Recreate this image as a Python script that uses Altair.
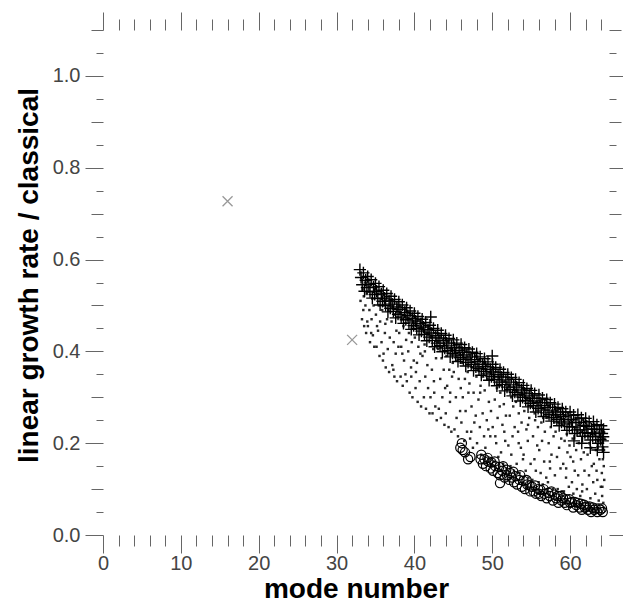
import altair as alt
import pandas as pd

# ---------------- data ----------------
# grey "x" markers
cross_pts = [(16.0, 0.727), (32.0, 0.425)]

# "+" markers (upper band)
plus_pts = [
    (33.0, .578), (33.15, .561), (33.3, .545), (33.45, .571), (33.6, .531), (33.75, .555), (33.9, .539),
    (34.0, .563), (34.15, .546), (34.3, .530), (34.45, .556), (34.6, .516), (34.75, .540), (34.9, .524),
    (35.0, .548), (35.15, .531), (35.3, .515), (35.45, .541), (35.6, .501), (35.75, .525), (35.9, .509),
    (36.0, .533), (36.15, .516), (36.3, .500), (36.45, .526), (36.6, .486), (36.75, .510), (36.9, .494),
    (37.0, .520), (37.15, .503), (37.3, .487), (37.45, .513), (37.6, .473), (37.75, .497), (37.9, .481),
    (38.0, .508), (38.15, .491), (38.3, .475), (38.45, .501), (38.6, .461), (38.75, .485), (38.9, .469),
    (39.0, .495), (39.15, .478), (39.3, .462), (39.45, .488), (39.6, .448), (39.75, .472), (39.9, .456),
    (40.0, .483), (40.15, .466), (40.3, .450), (40.45, .476), (40.6, .436), (40.75, .460), (40.9, .444),
    (41.0, .470), (41.15, .453), (41.3, .437), (41.45, .463), (41.6, .423), (41.75, .447), (41.9, .431),
    (42.1, .475),
    (42.0, .457), (42.15, .440), (42.3, .424), (42.45, .450), (42.6, .410), (42.75, .434), (42.9, .418),
    (43.0, .446), (43.15, .429), (43.3, .413), (43.45, .439), (43.6, .399), (43.75, .423), (43.9, .407),
    (44.0, .435), (44.15, .418), (44.3, .402), (44.45, .428), (44.6, .388), (44.75, .412), (44.9, .396),
    (45.0, .425), (45.15, .408), (45.3, .392), (45.45, .418), (45.6, .378), (45.75, .402), (45.9, .386),
    (46.0, .415), (46.15, .398), (46.3, .382), (46.45, .408), (46.6, .368), (46.75, .392), (46.9, .376),
    (47.0, .405), (47.15, .388), (47.3, .372), (47.45, .398), (47.6, .358), (47.75, .382), (47.9, .366),
    (48.0, .395), (48.15, .378), (48.3, .362), (48.45, .388), (48.6, .348), (48.75, .372), (48.9, .356),
    (49.0, .384), (49.15, .367), (49.3, .351), (49.45, .377), (49.6, .337), (49.75, .361), (49.9, .345),
    (50.0, .390),
    (50.05, .372), (50.15, .355), (50.3, .339), (50.45, .365), (50.6, .325), (50.75, .349), (50.9, .333),
    (51.0, .361), (51.15, .344), (51.3, .328), (51.45, .354), (51.6, .314), (51.75, .338), (51.9, .322),
    (52.0, .350), (52.15, .333), (52.3, .317), (52.45, .343), (52.6, .303), (52.75, .327), (52.9, .311),
    (53.0, .339), (53.15, .322), (53.3, .306), (53.45, .332), (53.6, .292), (53.75, .316), (53.9, .300),
    (54.0, .326), (54.15, .309), (54.3, .293), (54.45, .319), (54.6, .279), (54.75, .303), (54.9, .287),
    (55.0, .315), (55.15, .298), (55.3, .282), (55.45, .308), (55.6, .268), (55.75, .292), (55.9, .276),
    (56.0, .305), (56.15, .288), (56.3, .272), (56.45, .298), (56.6, .258), (56.75, .282), (56.9, .266),
    (57.0, .295), (57.15, .278), (57.3, .262), (57.45, .288), (57.6, .248), (57.75, .272), (57.9, .256),
    (58.0, .285), (58.15, .268), (58.3, .252), (58.45, .278), (58.6, .238), (58.75, .262), (58.9, .246),
    (59.0, .275), (59.15, .258), (59.3, .242), (59.45, .268), (59.6, .228), (59.75, .252), (59.9, .236),
    (60.0, .268), (60.15, .251), (60.3, .235), (60.45, .261), (60.6, .221), (60.75, .245), (60.9, .229),
    (61.0, .262), (61.15, .245), (61.3, .229), (61.45, .255), (61.6, .215), (61.75, .239), (61.9, .223),
    (62.0, .254), (62.15, .237), (62.3, .221), (62.45, .247), (62.6, .207), (62.75, .231), (62.9, .215),
    (63.0, .247), (63.15, .230), (63.3, .214), (63.45, .240), (63.6, .200), (63.75, .224), (63.9, .208),
    (64.0, .238), (64.1, .221), (64.2, .205), (64.3, .230), (64.15, .192), (64.25, .214),
    (60.5, .205), (61.5, .200), (62.6, .190), (63.5, .185), (64.3, .180),
]

# "o" markers (lower band)
circle_pts = [
    (45.9, .190), (46.2, .185), (46.1, .200), (46.5, .180), (46.9, .165), (47.2, .170),
    (48.5, .165), (48.8, .155), (49.2, .150), (49.5, .160), (49.8, .145),
    (50.1, .140), (50.4, .150), (50.7, .135), (51.0, .130), (51.3, .140),
    (51.6, .125), (51.9, .130), (52.2, .120), (52.5, .125), (52.8, .115),
    (53.2, .110), (53.5, .120), (53.8, .105), (54.2, .100), (54.5, .110),
    (54.9, .095), (55.3, .095), (55.6, .090), (56.0, .090), (56.3, .085),
    (56.7, .090), (57.0, .080), (57.4, .085), (57.8, .075), (58.2, .080),
    (58.5, .070), (58.9, .075), (59.3, .070), (59.6, .065), (60.0, .070),
    (60.4, .060), (60.8, .065), (61.2, .060), (61.5, .055), (61.9, .060),
    (62.3, .055), (62.7, .050), (63.1, .055), (63.5, .050), (63.9, .055),
    (64.2, .050), (51.0, .113),
    (48.6, .175), (49.0, .165), (49.4, .168), (49.9, .158), (50.3, .160),
    (50.9, .148), (51.4, .150), (51.8, .142), (52.3, .135), (52.7, .138),
    (53.0, .128), (53.6, .130), (54.0, .118), (54.4, .120), (54.8, .108),
    (55.1, .105), (55.5, .108), (55.9, .100), (56.2, .098), (56.6, .100),
    (57.2, .092), (57.6, .095), (58.0, .088), (58.4, .085), (58.8, .085),
    (59.1, .080), (59.5, .078), (59.9, .078), (60.2, .072), (60.6, .072),
    (61.0, .070), (61.4, .068), (61.8, .066), (62.1, .062), (62.5, .062),
    (62.9, .060), (63.3, .058), (63.7, .058), (64.1, .058),
]

# small dots filling the region between the bands
dot_pts = [
    (33.08, .510), (33.18, .560), (33.27, .470), (33.36, .535), (33.44, .490), (33.55, .455), (33.63, .550), (33.71, .500), (33.80, .440), (33.88, .525), (33.95, .465), (33.50, .520),
    (34.03, .455), (34.12, .530), (34.22, .490), (34.30, .420), (34.41, .545), (34.50, .470), (34.58, .515), (34.67, .435), (34.76, .500), (34.85, .410), (34.93, .535), (34.45, .440),
    (35.06, .480), (35.14, .410), (35.25, .525), (35.33, .445), (35.42, .500), (35.52, .390), (35.60, .465), (35.70, .530), (35.78, .420), (35.87, .490), (35.96, .380), (35.20, .455),
    (36.04, .395), (36.13, .500), (36.21, .440), (36.32, .365), (36.40, .515), (36.49, .470), (36.58, .405), (36.66, .490), (36.75, .355), (36.84, .430), (36.93, .510), (36.27, .460),
    (37.07, .465), (37.16, .370), (37.24, .500), (37.34, .420), (37.43, .345), (37.51, .480), (37.60, .395), (37.69, .445), (37.77, .335), (37.86, .495), (37.95, .410), (37.30, .360),
    (38.05, .440), (38.14, .485), (38.23, .345), (38.31, .410), (38.40, .470), (38.50, .325), (38.59, .455), (38.67, .380), (38.76, .495), (38.85, .350), (38.94, .425), (38.45, .395),
    (39.03, .335), (39.12, .470), (39.21, .400), (39.30, .440), (39.39, .310), (39.48, .480), (39.57, .365), (39.66, .420), (39.75, .300), (39.84, .455), (39.92, .380), (39.60, .345),
    (40.06, .430), (40.15, .320), (40.24, .465), (40.33, .375), (40.42, .290), (40.51, .410), (40.60, .450), (40.68, .335), (40.77, .395), (40.86, .280), (40.95, .470), (40.20, .355),
    (41.04, .390), (41.13, .450), (41.22, .300), (41.31, .415), (41.40, .345), (41.49, .275), (41.58, .440), (41.67, .370), (41.76, .320), (41.85, .455), (41.94, .265), (41.35, .400),
    (42.07, .300), (42.16, .430), (42.25, .360), (42.33, .265), (42.42, .405), (42.51, .335), (42.60, .440), (42.69, .280), (42.78, .385), (42.87, .250), (42.96, .420), (42.55, .310),
    (43.05, .405), (43.14, .275), (43.23, .430), (43.32, .340), (43.41, .255), (43.50, .385), (43.59, .300), (43.68, .425), (43.77, .360), (43.86, .240), (43.95, .320), (43.45, .410),
    (44.03, .265), (44.12, .390), (44.21, .325), (44.30, .420), (44.39, .235), (44.48, .360), (44.57, .290), (44.66, .405), (44.75, .225), (44.84, .345), (44.93, .375), (44.60, .310),
    (45.06, .355), (45.15, .230), (45.24, .405), (45.33, .300), (45.42, .255), (45.51, .380), (45.60, .215), (45.69, .340), (45.78, .410), (45.87, .270), (45.96, .320), (45.40, .390),
    (46.04, .245), (46.13, .375), (46.22, .300), (46.31, .395), (46.40, .205), (46.49, .340), (46.58, .270), (46.67, .400), (46.76, .225), (46.85, .355), (46.94, .310), (46.55, .385),
    (47.07, .330), (47.16, .210), (47.25, .385), (47.34, .280), (47.43, .365), (47.52, .190), (47.61, .310), (47.70, .245), (47.79, .390), (47.88, .260), (47.97, .345), (47.30, .225),
    (48.05, .200), (48.14, .360), (48.23, .295), (48.32, .380), (48.41, .235), (48.50, .325), (48.59, .175), (48.68, .345), (48.77, .265), (48.86, .375), (48.95, .215), (48.45, .310),
    (49.03, .315), (49.12, .190), (49.21, .370), (49.30, .250), (49.39, .340), (49.48, .165), (49.57, .290), (49.66, .355), (49.75, .215), (49.84, .270), (49.93, .360), (49.50, .230),
    (50.06, .235), (50.15, .340), (50.24, .160), (50.33, .295), (50.42, .355), (50.51, .200), (50.60, .320), (50.69, .255), (50.78, .170), (50.87, .345), (50.96, .280), (50.40, .215),
    (51.04, .310), (51.13, .180), (51.22, .345), (51.31, .240), (51.40, .155), (51.49, .285), (51.58, .335), (51.67, .205), (51.76, .260), (51.85, .145), (51.94, .320), (51.55, .225),
    (52.07, .195), (52.16, .325), (52.25, .260), (52.34, .150), (52.43, .300), (52.52, .340), (52.61, .215), (52.70, .280), (52.79, .140), (52.88, .235), (52.97, .315), (52.45, .175),
    (53.05, .290), (53.14, .155), (53.23, .330), (53.32, .225), (53.41, .265), (53.50, .135), (53.59, .305), (53.68, .190), (53.77, .245), (53.86, .320), (53.95, .165), (53.40, .200),
    (54.03, .175), (54.12, .270), (54.21, .310), (54.30, .140), (54.39, .230), (54.48, .295), (54.57, .205), (54.66, .125), (54.75, .255), (54.84, .315), (54.93, .155), (54.60, .240),
    (55.06, .280), (55.15, .120), (55.24, .215), (55.33, .300), (55.42, .165), (55.51, .250), (55.60, .140), (55.69, .290), (55.78, .195), (55.87, .235), (55.96, .115), (55.45, .265),
    (56.04, .185), (56.13, .290), (56.22, .135), (56.31, .245), (56.40, .205), (56.49, .110), (56.58, .275), (56.67, .160), (56.76, .225), (56.85, .295), (56.94, .125), (56.55, .255),
    (57.07, .255), (57.16, .115), (57.25, .200), (57.34, .280), (57.43, .145), (57.52, .235), (57.61, .175), (57.70, .270), (57.79, .100), (57.88, .215), (57.97, .245), (57.40, .160),
    (58.05, .130), (58.14, .225), (58.23, .270), (58.32, .170), (58.41, .100), (58.50, .245), (58.59, .190), (58.68, .275), (58.77, .145), (58.86, .210), (58.95, .095), (58.45, .260),
    (59.03, .240), (59.12, .155), (59.21, .095), (59.30, .205), (59.39, .260), (59.48, .125), (59.57, .220), (59.66, .180), (59.75, .265), (59.84, .105), (59.93, .195), (59.50, .145),
    (60.06, .170), (60.15, .250), (60.24, .115), (60.33, .210), (60.42, .090), (60.51, .235), (60.60, .140), (60.69, .255), (60.78, .185), (60.87, .100), (60.96, .225), (60.40, .160),
    (61.04, .130), (61.13, .200), (61.22, .245), (61.31, .085), (61.40, .165), (61.49, .225), (61.58, .110), (61.67, .250), (61.76, .180), (61.85, .140), (61.94, .215), (61.55, .095),
    (62.07, .235), (62.16, .100), (62.25, .175), (62.34, .215), (62.43, .130), (62.52, .245), (62.61, .080), (62.70, .190), (62.79, .150), (62.88, .230), (62.97, .115), (62.45, .200),
    (63.05, .155), (63.14, .220), (63.23, .090), (63.32, .185), (63.41, .240), (63.50, .120), (63.59, .205), (63.68, .075), (63.77, .165), (63.86, .230), (63.95, .105), (63.40, .140),
    (64.03, .200), (64.12, .085), (64.21, .165), (64.30, .225), (64.39, .120), (64.08, .135), (64.18, .230), (64.27, .070), (64.36, .185), (64.15, .105), (64.33, .150), (64.42, .210),
]

x_tick_values = [0, 2, 4, 6, 8, 10, 12, 14, 16, 18, 20, 22, 24, 26, 28, 30, 32,
                 34, 36, 38, 40, 42, 44, 46, 48, 50, 52, 54, 56, 58, 60, 62, 64]
y_tick_values = [0.0, 0.05, 0.1, 0.15, 0.2, 0.25, 0.3, 0.35, 0.4, 0.45, 0.5, 0.55,
                 0.6, 0.65, 0.7, 0.75, 0.8, 0.85, 0.9, 0.95, 1.0, 1.05, 1.1]

def frame(pts):
    return pd.DataFrame(pts, columns=["x", "y"])

FONT = "Liberation Sans"
TICK_COLOR = "#666666"
LABEL_COLOR = "#444444"

xs = alt.Scale(domain=[0, 65], nice=False, zero=False)
ys = alt.Scale(domain=[0, 1.1], nice=False, zero=False)

x_tick_size = {"condition": {"test": "datum.value % 10 === 0", "value": 18}, "value": 11}
y_tick_size = {
    "condition": [
        {"test": "abs(datum.value * 10 - round(datum.value * 10)) > 0.01", "value": 7},
        {"test": "round(datum.value * 10) % 2 !== 0", "value": 12},
    ],
    "value": 18,
}

common = dict(domain=False, grid=False, tickColor=TICK_COLOR, tickWidth=1,
              labelOverlap=False, labelFlush=False)

axis_bottom = alt.Axis(
    orient="bottom", values=x_tick_values, tickSize=x_tick_size, format="d",
    labelExpr="datum.value % 10 === 0 ? datum.label : ''",
    labelFont=FONT, labelFontSize=20, labelColor=LABEL_COLOR, labelPadding=0,
    title="mode number", titleFont=FONT, titleFontSize=28, titleFontWeight="bold",
    titleColor="black", titleBaseline="alphabetic", titleY=62, **common)
axis_top = alt.Axis(orient="top", values=x_tick_values, tickSize=x_tick_size,
                    labels=False, title=None, **common)
axis_left = alt.Axis(
    orient="left", values=y_tick_values, tickSize=y_tick_size, format=".1f",
    labelExpr="round(datum.value * 100) % 20 === 0 ? datum.label : ''",
    labelFont=FONT, labelFontSize=20, labelColor=LABEL_COLOR, labelPadding=5,
    title="linear growth rate / classical", titleFont=FONT, titleFontSize=28,
    titleFontWeight="bold", titleColor="black", titleAngle=270,
    titleBaseline="alphabetic", titleX=-66, titleY=245, **common)
axis_right = alt.Axis(orient="right", values=y_tick_values, tickSize=y_tick_size,
                      labels=False, title=None, **common)

dots = alt.Chart(frame(dot_pts)).mark_square(size=6, color="#111111", opacity=0.9).encode(
    x=alt.X("x:Q", scale=xs, axis=axis_bottom),
    y=alt.Y("y:Q", scale=ys, axis=axis_left),
)
plus = alt.Chart(frame(plus_pts)).mark_point(
    shape="M-1,0L1,0M0,-1L0,1", size=150, filled=False, stroke="black",
    strokeWidth=1.4, opacity=1).encode(
    x=alt.X("x:Q", scale=xs, axis=axis_top),
    y=alt.Y("y:Q", scale=ys, axis=axis_right),
)
circles = alt.Chart(frame(circle_pts)).mark_point(
    shape="circle", size=85, filled=False, stroke="black", strokeWidth=1.2,
    opacity=1).encode(
    x=alt.X("x:Q", scale=xs, axis=None),
    y=alt.Y("y:Q", scale=ys, axis=None),
)
crosses = alt.Chart(frame(cross_pts)).mark_point(
    shape="M-1,-1L1,1M-1,1L1,-1", size=100, filled=False, stroke="#999999",
    strokeWidth=1.3, opacity=1).encode(
    x=alt.X("x:Q", scale=xs, axis=None),
    y=alt.Y("y:Q", scale=ys, axis=None),
)

chart = (
    alt.layer(dots, plus, circles, crosses)
    .resolve_axis(x="independent", y="independent")
    .properties(
        width=506, height=505,
        padding={"left": 95, "top": 22, "right": 14, "bottom": 68},
        autosize=alt.AutoSizeParams(type="none"),
        background="white",
    )
    .configure_view(stroke=None)
)

chart.save("out.html", embed_options={"renderer": "svg", "actions": False})
